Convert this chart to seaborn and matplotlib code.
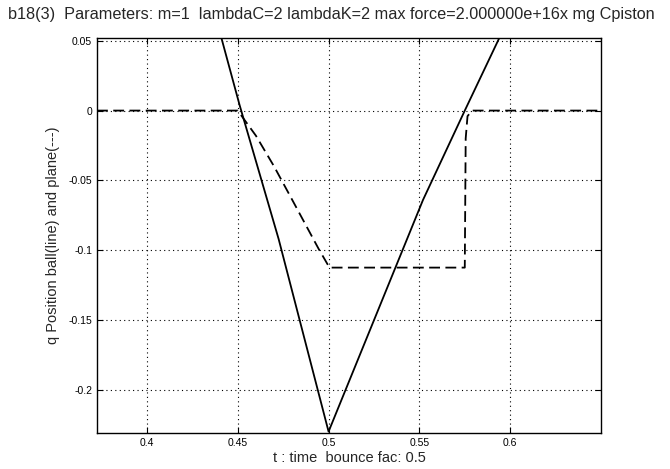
import matplotlib
matplotlib.use("Agg")
import matplotlib.pyplot as plt
import seaborn as sns
import pandas as pd
from matplotlib.ticker import FixedLocator, FixedFormatter

# ---- data ----
ball_t = [0.436, 0.441, 0.451, 0.4725, 0.500, 0.552, 0.575, 0.594, 0.598]
ball_q = [0.078, 0.052, 0.004, -0.092, -0.230, -0.064, 0.000, 0.052, 0.064]

plane_t = [0.3725, 0.450, 0.460, 0.470, 0.480, 0.4945, 0.5005, 0.575, 0.5755, 0.5765, 0.579, 0.65]
plane_q = [0.0, 0.0, -0.018, -0.040, -0.064, -0.099, -0.1125, -0.1125, -0.02, -0.004, 0.0, 0.0]

x_ticks = [0.4, 0.45, 0.5, 0.55, 0.6]
x_tick_labels = ["0.4", "0.45", "0.5", "0.55", "0.6"]
y_ticks = [0.05, 0.0, -0.05, -0.1, -0.15, -0.2]
y_tick_labels = ["0.05", "0", "-0.05", "-0.1", "-0.15", "-0.2"]

title_text = "b18(3)  Parameters: m=1  lambdaC=2 lambdaK=2 max force=2.000000e+16x mg Cpiston"
x_label = "t : time  bounce fac: 0.5"
y_label = "q Position ball(line) and plane(---)"

# ---- plotting ----
sns.set_style("white")
plt.rcParams["font.family"] = ["Liberation Sans", "DejaVu Sans"]

fig = plt.figure(figsize=(6.7, 4.69), dpi=100)
ax = fig.add_axes([97 / 670, 1 - 433 / 469, (601 - 97) / 670, (433 - 38) / 469])

ball = pd.DataFrame({"t": ball_t, "q": ball_q})
plane = pd.DataFrame({"t": plane_t, "q": plane_q})

sns.lineplot(data=ball, x="t", y="q", ax=ax, color="black", linewidth=1.3,
             sort=False, estimator=None)
sns.lineplot(data=plane, x="t", y="q", ax=ax, color="black", linewidth=1.3,
             linestyle=(0, (6, 3)), sort=False, estimator=None)

ax.set_xlim(0.3725, 0.65)
ax.set_ylim(-0.231, 0.052)

ax.xaxis.set_major_locator(FixedLocator(x_ticks))
ax.xaxis.set_major_formatter(FixedFormatter(x_tick_labels))
ax.yaxis.set_major_locator(FixedLocator(y_ticks))
ax.yaxis.set_major_formatter(FixedFormatter(y_tick_labels))

ax.grid(True, color="black", linestyle=(0, (1, 3)), linewidth=0.8)
ax.tick_params(direction="in", length=4, width=0.8, labelsize=7.5,
               top=True, right=True, bottom=True, left=True, colors="black")
for s in ax.spines.values():
    s.set_visible(True)
    s.set_color("black")
    s.set_linewidth(1.0)

ax.set_xlabel(x_label, fontsize=10.5, labelpad=2)
ax.set_ylabel(y_label, fontsize=10.5, labelpad=6)

fig.text(8 / 670, 1 - 14 / 469, title_text, fontsize=11.7, ha="left", va="center")

fig.savefig("out.png", dpi=100)
